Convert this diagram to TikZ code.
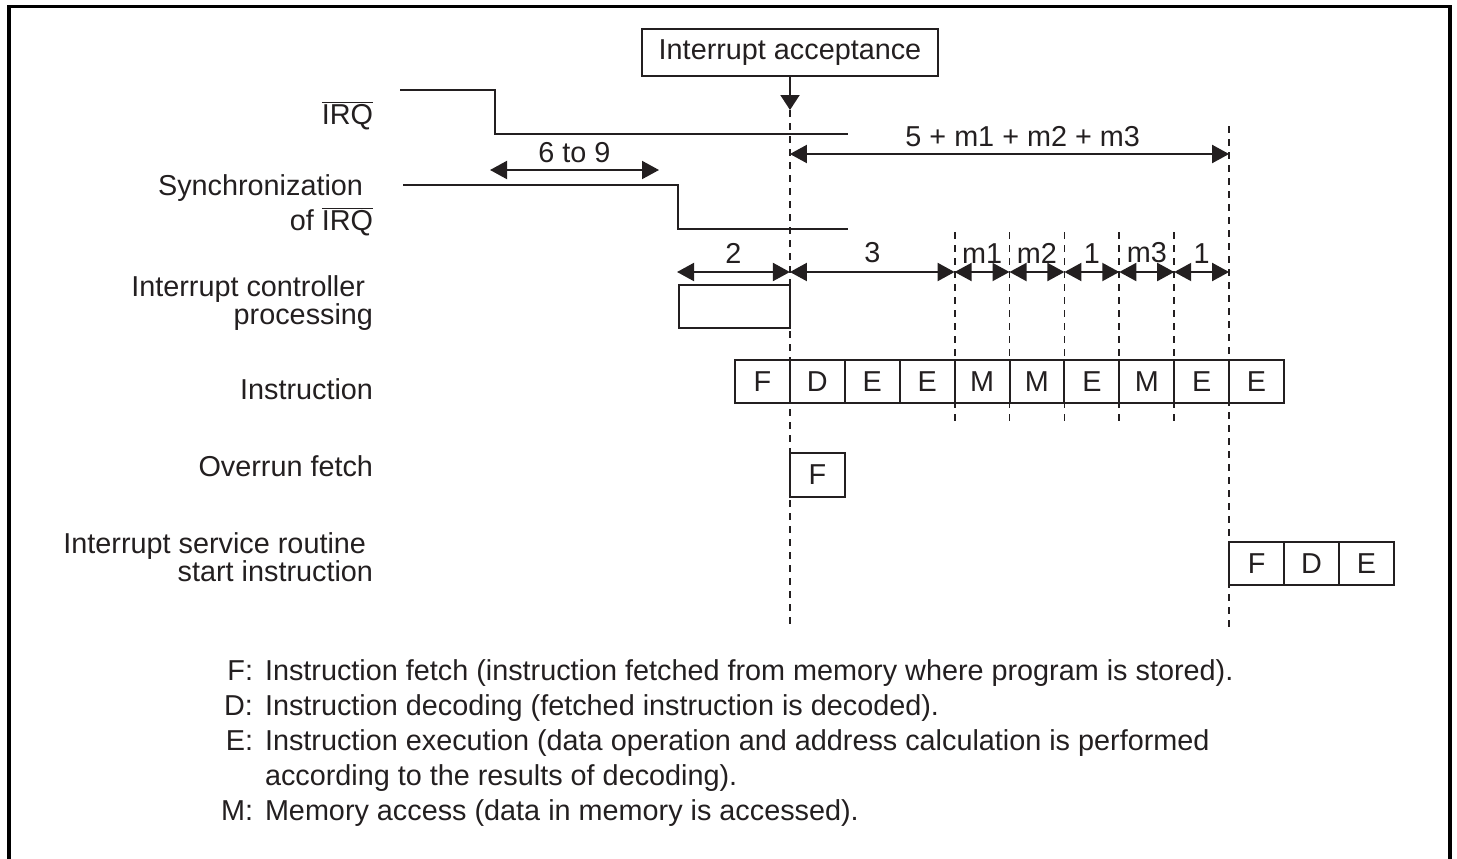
\documentclass[tikz,border=0pt]{standalone}
\usepackage{fontspec}
\setmainfont{Liberation Sans}
\usetikzlibrary{arrows.meta,calc}
\definecolor{ink}{HTML}{231F20}
\begin{document}
\begin{tikzpicture}[x=1bp,y=-1bp,
  every node/.style={font=\fontsize{28.8bp}{34bp}\selectfont, text=ink, inner sep=0pt, outer sep=0pt},
  ln/.style={line width=2bp, draw=ink},
  frame/.style={line width=3.5bp, draw=black},
  dsh/.style={line width=1.8bp, draw=ink, dash pattern=on 7bp off 6bp},
  tip/.style={-{Triangle[length=15bp,width=19bp]}},
  dim/.style={ln,{Triangle[length=17bp,width=18bp]}-{Triangle[length=17bp,width=18bp]}},
  cell/.style={draw=ink, line width=2bp, minimum width=54.9bp, minimum height=43bp, anchor=west},
  lbl/.style={anchor=base east},
  key/.style={anchor=base east},
  txt/.style={anchor=base west},
]
\useasboundingbox (0,0) rectangle (1457,858);
% frame (open at the bottom)
\draw[frame] (9,862) -- (9,6.5) -- (1450,6.5) -- (1450,862);

% helper coordinates
\coordinate (ytopA) at (0,110);
\coordinate (ytopB) at (0,126);
\coordinate (ytopC) at (0,232);
\coordinate (ybotC) at (0,425);
\coordinate (ybot) at (0,630);
\coordinate (yr) at (0,272);
\coordinate (yt) at (0,154);

% interrupt acceptance
\node[draw=ink, line width=2bp, minimum width=296bp, minimum height=47bp] (acc) at (790,52.5) {Interrupt acceptance};
\coordinate (accTip) at (790,110);
\draw[ln,tip] (acc.south) -- (accTip);

% waveforms
\coordinate (irq0) at (400,90);
\coordinate (irq1) at (495,90);
\coordinate (irq2) at (495,134);
\coordinate (irq3) at (848,134);
\draw[ln] (irq0) -- (irq1) -- (irq2) -- (irq3);
\coordinate (syn0) at (403,185);
\coordinate (syn1) at (678,185);
\coordinate (syn2) at (678,229);
\coordinate (syn3) at (848,229);
\draw[ln] (syn0) -- (syn1) -- (syn2) -- (syn3);

% 6 to 9
\coordinate (a69) at (490,170);
\coordinate (b69) at (659,170);
\draw[dim] (a69) -- node[midway, above=7bp] (l69) {6 to 9} (b69);

% instruction row
\foreach \t [count=\k] in {F,D,E,E,M,M,E,M,E,E}
  \node[cell] (i\k) at ({735+(\k-1)*54.9},381.5) {\t};
% overrun fetch
\node[cell, minimum height=44bp] (of) at (i2.west |- {0,475}) {F};
% ISR start instruction
\foreach \t [count=\k] in {F,D,E}
  \node[cell] (s\k) at ({1229.1+(\k-1)*54.9},563.5) {\t};

% interrupt controller processing box
\node[draw=ink, line width=2bp, minimum width=111bp, minimum height=43bp, anchor=north east] (icp) at (790,285) {};

% dashed guide lines
\draw[dsh] (i2.west |- ytopA) -- (i2.west |- ybot);
\foreach \k in {5,...,9}
  \draw[dsh] (i\k.west |- ytopC) -- (i\k.west |- ybotC);
\draw[dsh] (i10.west |- ytopB) -- (i10.west |- ybot);

% total span
\draw[dim] (i2.west |- yt) -- node[pos=0.53, above=7bp] (ltot) {5 + m1 + m2 + m3} (i10.west |- yt);

% cycle row
\coordinate (r0) at (677,272);
\draw[dim] (r0) -- node[midway, above=9bp] (lc1) {2} (i2.west |- yr);
\draw[dim] (i2.west |- yr) -- node[midway, above=9bp] (lc2) {3} (i5.west |- yr);
\draw[dim] (i5.west |- yr) -- node[midway, above=9bp] (lc3) {m1} (i6.west |- yr);
\draw[dim] (i6.west |- yr) -- node[midway, above=9bp] (lc4) {m2} (i7.west |- yr);
\draw[dim] (i7.west |- yr) -- node[midway, above=9bp] (lc5) {1} (i8.west |- yr);
\draw[dim] (i8.west |- yr) -- node[midway, above=9bp] (lc6) {m3} (i9.west |- yr);
\draw[dim] (i9.west |- yr) -- node[midway, above=9bp] (lc7) {1} (i10.west |- yr);

% left labels
\node[lbl] (tirq) at (373,124) {$\overline{\hbox{IRQ}}$};
\node[lbl] (tsync1) at (363,195) {Synchronization};
\node[lbl] (tsync2) at (373,230) {of $\overline{\hbox{IRQ}}$};
\node[lbl] (tic1) at (365,296) {Interrupt controller};
\node[lbl] (tic2) at (373,324) {processing};
\node[lbl] (tins) at (373,399) {Instruction};
\node[lbl] (tof) at (373,476) {Overrun fetch};
\node[lbl] (tisr1) at (366,553) {Interrupt service routine};
\node[lbl] (tisr2) at (373,581) {start instruction};

% legend
\node[key] (kF) at (253,680) {F:};
\node[txt] (xF) at (265,680) {Instruction fetch (instruction fetched from memory where program is stored).};
\node[key] (kD) at (253,715) {D:};
\node[txt] (xD) at (265,715) {Instruction decoding (fetched instruction is decoded).};
\node[key] (kE) at (253,750) {E:};
\node[txt] (xE1) at (265,750) {Instruction execution (data operation and address calculation is performed};
\node[txt] (xE2) at (265,785) {according to the results of decoding).};
\node[key] (kM) at (253,820) {M:};
\node[txt] (xM) at (265,820) {Memory access (data in memory is accessed).};
\end{tikzpicture}
\end{document}
